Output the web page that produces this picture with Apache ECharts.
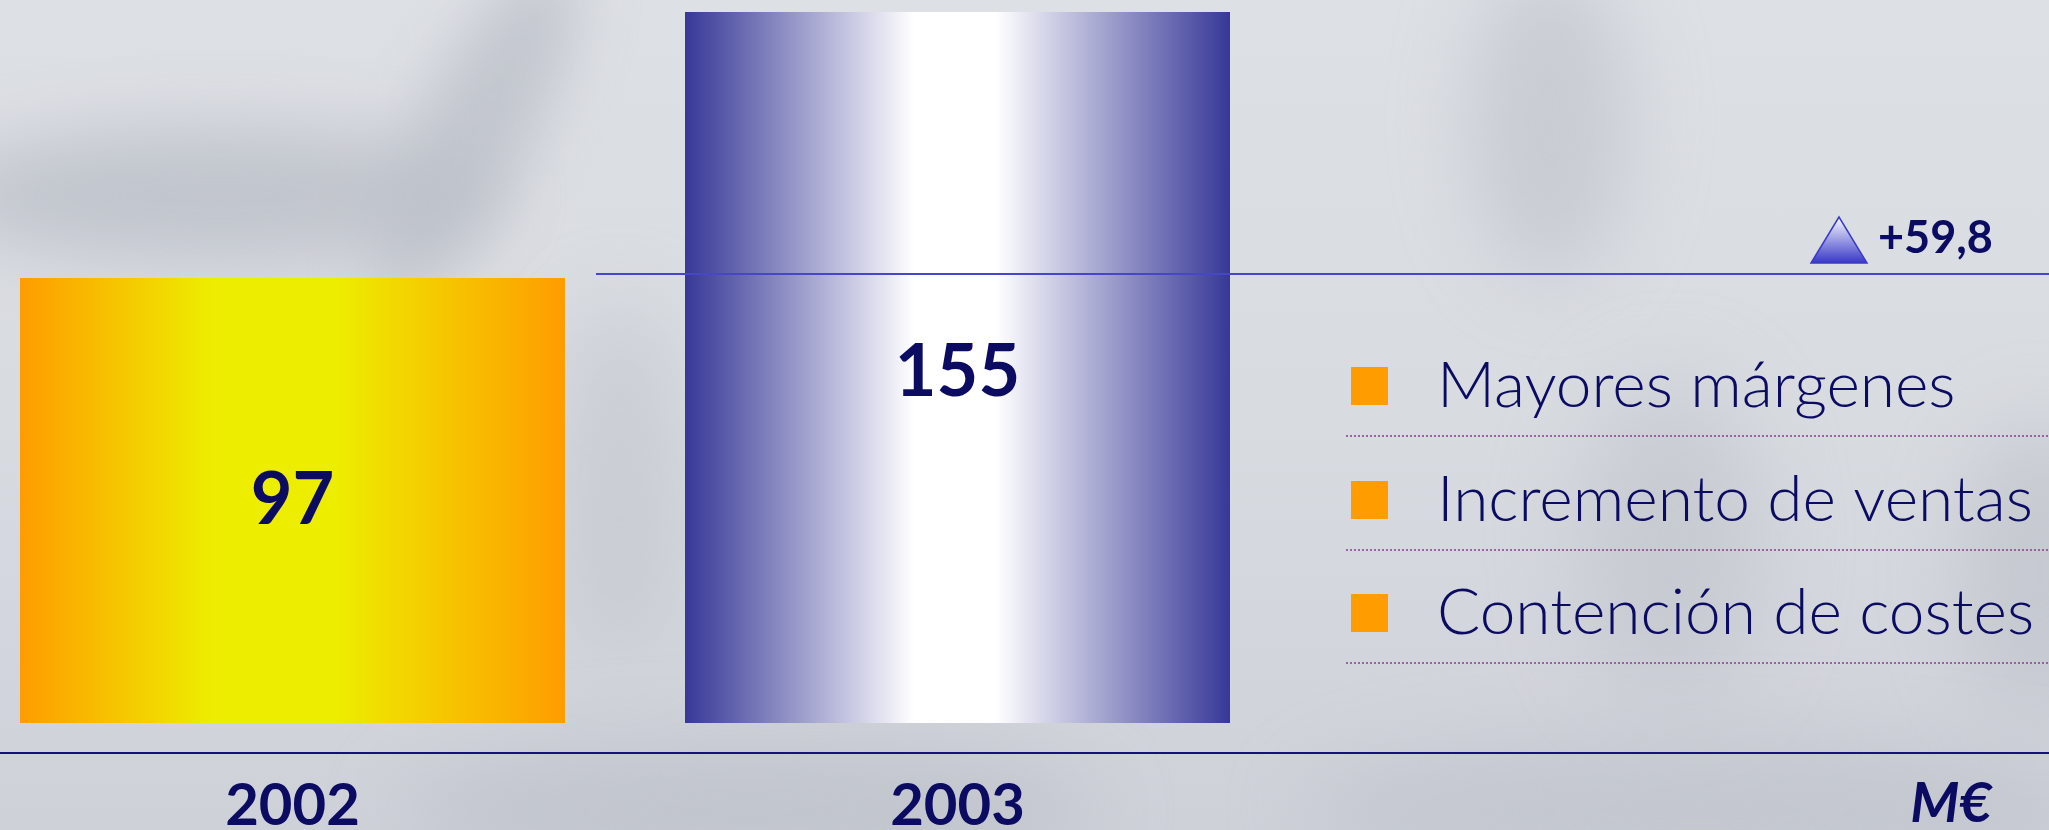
<!DOCTYPE html>
<html>
<head>
<meta charset="utf-8">
<script src="https://cdn.jsdelivr.net/npm/echarts@6/dist/echarts.min.js"></script>
<style>
  html, body { margin: 0; padding: 0; }
  body {
    position: relative;
    width: 2049px; height: 830px; overflow: hidden;
    background: linear-gradient(180deg, #dde0e5 0%, #d8dbe0 50%, #ced1d8 100%);
  }
  .haze { position: absolute; border-radius: 50%; background: #bcc0c8; }
  #chart { position: absolute; left: 0; top: 0; width: 2049px; height: 830px; }
</style>
</head>
<body>
<!-- soft background streaks -->
<div class="haze" style="left:-60px; top:130px; width:560px; height:130px; filter:blur(35px); opacity:0.85;"></div>
<div class="haze" style="left:420px; top:-60px; width:110px; height:380px; transform:rotate(28deg); filter:blur(30px); opacity:0.8;"></div>
<div class="haze" style="left:560px; top:300px; width:120px; height:360px; filter:blur(40px); opacity:0.5;"></div>
<div class="haze" style="left:1470px; top:-40px; width:160px; height:320px; filter:blur(40px); opacity:0.6;"></div>
<div class="haze" style="left:1580px; top:380px; width:180px; height:320px; filter:blur(45px); opacity:0.55;"></div>
<div class="haze" style="left:1960px; top:420px; width:160px; height:300px; filter:blur(40px); opacity:0.6;"></div>
<div class="haze" style="left:400px; top:740px; width:700px; height:140px; filter:blur(40px); opacity:0.7;"></div>
<div class="haze" style="left:1300px; top:740px; width:800px; height:140px; filter:blur(40px); opacity:0.6;"></div>
<div id="chart"></div>
<script>
// Operating result, million euros
const years = ['2002', '2003'];
const values = [97, 155];
const increase = '+59,8';
const unit = 'M€';
const drivers = ['Mayores márgenes', 'Incremento de ventas', 'Contención de costes'];

const NAVY = '#0b0b62';

const barGradients = [
  new echarts.graphic.LinearGradient(0, 0, 1, 0, [
    { offset: 0, color: '#ff9c00' },
    { offset: 0.35, color: '#eded00' },
    { offset: 0.58, color: '#eded00' },
    { offset: 1, color: '#ff9c00' }
  ]),
  new echarts.graphic.LinearGradient(0, 0, 1, 0, [
    { offset: 0, color: '#373897' },
    { offset: 0.42, color: '#ffffff' },
    { offset: 0.57, color: '#ffffff' },
    { offset: 1, color: '#373897' }
  ])
];

const chart = echarts.init(document.getElementById('chart'), null, { renderer: 'canvas' });

chart.setOption({
  backgroundColor: 'transparent',
  animation: false,
  grid: {
    left: -40, top: 0, width: 1330, bottom: 107,
    containLabel: false, outerBoundsMode: 'none'
  },
  xAxis: {
    type: 'category',
    data: years,
    axisLine: { show: false },
    axisTick: { show: false },
    axisLabel: {
      margin: 54,
      color: NAVY,
      fontFamily: 'Lato',
      fontWeight: 'bold',
      fontSize: 58
    }
  },
  yAxis: {
    type: 'value',
    min: 0,
    max: 157.6,
    show: false
  },
  series: [{
    type: 'bar',
    barWidth: 545,
    data: values.map((v, i) => ({
      value: v,
      itemStyle: { color: barGradients[i] },
      label: { offset: [0, i === 1 ? 5 : 0] }
    })),
    label: {
      show: true,
      position: 'inside',
      color: NAVY,
      fontFamily: 'Lato',
      fontWeight: 'bold',
      fontSize: 72
    }
  }]
});

// Reference level of the first year, drawn across to the right edge
const W = 2049;
const refY = chart.convertToPixel({ yAxisIndex: 0 }, values[0]) - 4;
const baseY = chart.convertToPixel({ yAxisIndex: 0 }, 0) + 30;

const graphics = [
  { type: 'line', shape: { x1: 0, y1: baseY, x2: W, y2: baseY },
    style: { stroke: '#12127a', lineWidth: 2 }, z: 5 },
  { type: 'line', shape: { x1: 596, y1: refY, x2: W, y2: refY },
    style: { stroke: '#4646c6', lineWidth: 2 }, z: 5 },
  { type: 'polygon', shape: { points: [[1839, refY - 57], [1811, refY - 11], [1867, refY - 11]] },
    style: {
      fill: new echarts.graphic.LinearGradient(0, 0, 0, 1, [
        { offset: 0, color: '#ffffff' },
        { offset: 1, color: '#3535c8' }
      ]),
      stroke: '#3a3ac8', lineWidth: 1.5
    }, z: 5 },
  { type: 'text', x: 1878, y: refY - 36,
    style: { text: increase, fill: NAVY, font: 'bold 45px Lato', textVerticalAlign: 'middle' }, z: 5 },
  { type: 'text', x: 1951, y: 804,
    style: { text: unit, fill: NAVY, font: 'italic bold 56px Lato', textAlign: 'center', textVerticalAlign: 'middle' }, z: 5 }
];

// Driver list with orange markers and dotted separators
const rowCenters = [386, 500, 613];
drivers.forEach((d, i) => {
  const cy = rowCenters[i];
  graphics.push(
    { type: 'rect', shape: { x: 1351, y: cy - 19, width: 37, height: 38 },
      style: { fill: '#ff9c00' }, z: 5 },
    { type: 'text', x: 1437, y: cy,
      style: { text: d, fill: NAVY, font: '300 64px Lato', textVerticalAlign: 'middle' }, z: 5 },
    { type: 'line', shape: { x1: 1346, y1: cy + 50, x2: W, y2: cy + 50 },
      style: { stroke: '#84428a', lineWidth: 1.5, lineDash: [2, 2] }, z: 5 }
  );
});

chart.setOption({ graphic: graphics });
</script>
</body>
</html>
